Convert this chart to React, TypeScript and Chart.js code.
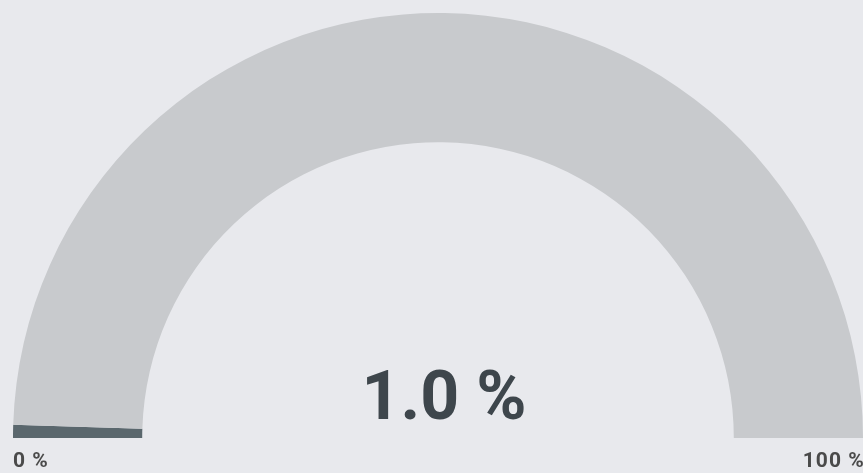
import React, { useEffect, useRef } from "react";
import { Chart, registerables } from "chart.js";

Chart.register(...registerables);

const labels = ["Value", "Remaining"];
const values = [1.0, 99.0];
const minLabel = "0 %";
const maxLabel = "100 %";
const valueText = "1.0 %";

const W = 900;
const H = 473;

const textPlugin = {
  id: "gaugeText",
  afterDraw(chart: any) {
    const ctx = chart.ctx;
    const meta = chart.getDatasetMeta(0);
    const arc = meta.data[0];
    if (!arc) return;
    const { x, y, outerRadius, innerRadius } = arc.getProps(["x", "y", "outerRadius", "innerRadius"], true);
    ctx.save();
    ctx.fillStyle = "#3e464c";
    ctx.font = "bold 68px Roboto";
    ctx.textAlign = "center";
    ctx.textBaseline = "alphabetic";
    ctx.fillText(valueText, x + 6, y - 19);
    ctx.fillStyle = "#4a4a4a";
    ctx.font = "bold 21px Roboto";
    (ctx as any).letterSpacing = "1px";
    ctx.textAlign = "left";
    ctx.fillText(minLabel, x - outerRadius, y + 29);
    ctx.fillText(maxLabel, x + innerRadius + 69, y + 29);
    ctx.restore();
  },
};

export default function App() {
  const ref = useRef<HTMLCanvasElement | null>(null);
  useEffect(() => {
    if (!ref.current) return;
    const chart = new Chart(ref.current, {
      type: "doughnut",
      data: {
        labels,
        datasets: [
          {
            data: values,
            backgroundColor: ["#5a676d", "#c8cacd"],
            borderWidth: 0,
          },
        ],
      },
      options: {
        responsive: false,
        animation: false,
        rotation: -90,
        circumference: 180,
        cutout: "69.6%",
        layout: { padding: { left: 13, right: 37, top: 13, bottom: 35 } },
        plugins: {
          legend: { display: false },
          tooltip: { enabled: false },
        },
      },
      plugins: [textPlugin],
    });
    return () => chart.destroy();
  }, []);
  return (
    <div
      style={{
        position: "fixed",
        left: 0,
        top: 0,
        width: 863,
        height: 473,
        overflow: "hidden",
        background: "#e8e9ed",
      }}
    >
      <canvas ref={ref} width={W} height={H} style={{ display: "block", width: W, height: H }} />
    </div>
  );
}
